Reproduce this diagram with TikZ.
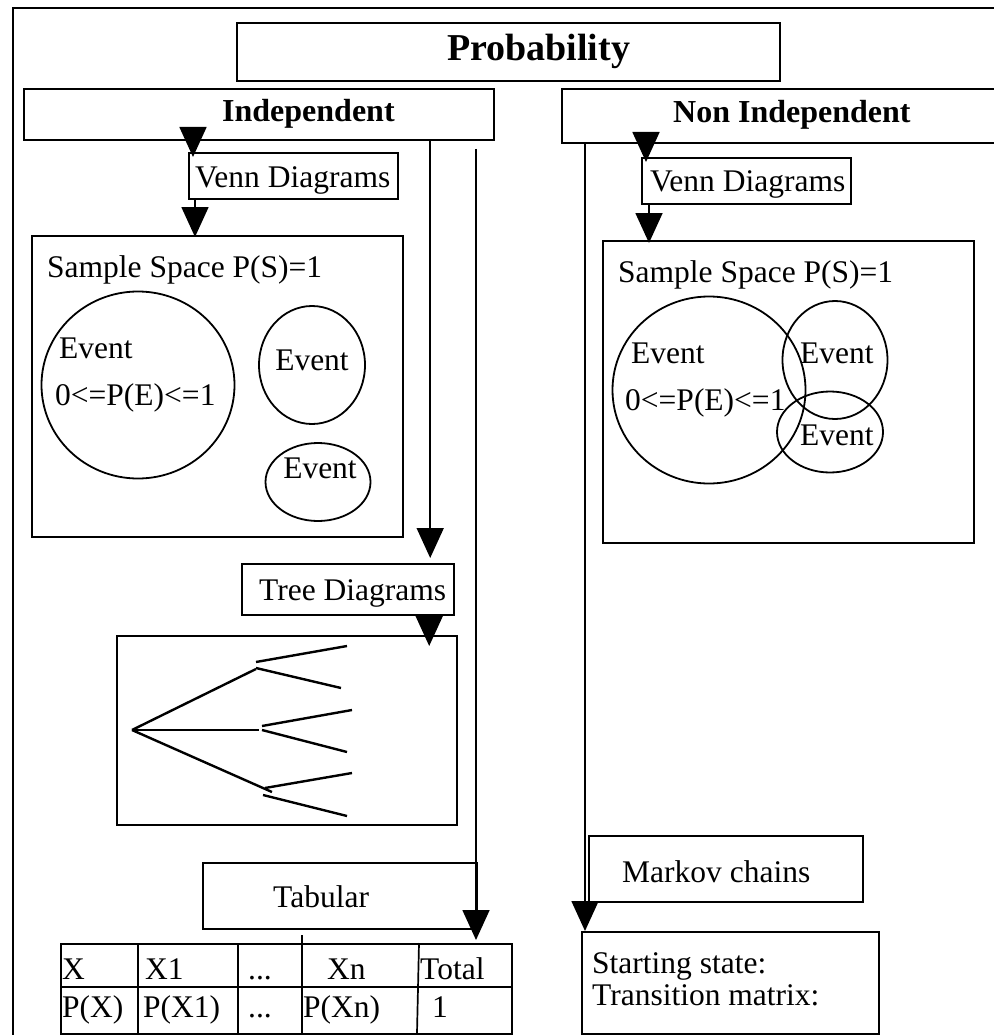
\documentclass[tikz,border=0pt]{standalone}
\usepackage{fontspec}
\setmainfont{Liberation Serif}
\usetikzlibrary{arrows.meta,shapes.geometric}
\tikzset{
  box/.style={draw, line width=2.2pt, anchor=north west, inner sep=0pt},
  thinBox/.style={draw, line width=1.7pt, anchor=north west, inner sep=0pt},
  txt/.style={anchor=base west, inner sep=0pt, font=\fontsize{31.5}{36}\selectfont},
  headLbl/.style={anchor=base west, inner sep=0pt, font=\fontsize{32}{38}\selectfont\bfseries},
  evt/.style={draw, ellipse, line width=1.8pt, inner sep=0pt},
  flow/.style={line width=1.7pt, -{Triangle[length=30pt, width=27pt]}},
  branch/.style={line width=2.4pt},
  grid/.style={line width=1.7pt},
}

\begin{document}
\begin{tikzpicture}[x=1pt, y=-1pt]
  \useasboundingbox (0,0) rectangle (993,1035);
  \draw[line width=2.2pt] (13,1040) -- (13,8) -- (1000,8);

  % headings
  \node[box, minimum width=543, minimum height=58] (probBox) at (236,22) {};
  \node[headLbl, font=\fontsize{38}{44}\selectfont\bfseries] (probLbl) at (447,61) {Probability};
  \node[box, minimum width=470, minimum height=51] (indep) at (23,88) {};
  \node[headLbl] (indepLbl) at (222,122) {Independent};
  \node[box, minimum width=450, minimum height=54] (nonIndep) at (561,88) {};
  \node[headLbl] (nonIndepLbl) at (673,123) {Non Independent};

  % independent side
  \node[box, minimum width=209, minimum height=46] (vennL) at (188,152) {};
  \node[txt] (vennLLbl) at (195,188) {Venn Diagrams};
  \node[box, minimum width=371, minimum height=301] (sampleL) at (31,235) {};
  \node[txt] (sampleLLbl) at (47,277) {Sample Space P(S)=1};
  \node[evt, minimum width=193, minimum height=187] (bigL) at (138,385) {};
  \node[txt] (eventL) at (59,358) {Event};
  \node[txt] (rangeL) at (55,405) {0<=P(E)<=1};
  \node[evt, minimum width=106, minimum height=118] (midL) at (312,365) {};
  \node[txt, anchor=base] (midLLbl) at (312,370) {Event};
  \node[evt, minimum width=105, minimum height=78] (lowL) at (318,482) {};
  \node[txt, anchor=base] (lowLLbl) at (320,478) {Event};

  \node[box, minimum width=212, minimum height=51] (treeHd) at (241,563) {};
  \node[txt] (treeLbl) at (259,600) {Tree Diagrams};
  \node[thinBox, minimum width=340, minimum height=189] (treeBox) at (116,635) {};
  \draw[branch] (132,730) -- (256,669);
  \draw[branch] (256,662) -- (347,646);
  \draw[branch] (256,668) -- (341,688);
  \draw[branch] (132,730) -- (259,730);
  \draw[branch] (262,726) -- (352,710);
  \draw[branch] (262,730) -- (347,752);
  \draw[branch] (132,730) -- (272,792);
  \draw[branch] (265,788) -- (352,773);
  \draw[branch] (263,795) -- (347,816);

  \node[box, minimum width=274, minimum height=66] (tabHd) at (202,862) {};
  \node[txt] (tabLbl) at (273,907) {Tabular};
  \node[thinBox, minimum width=451, minimum height=90] (tbl) at (60,943) {};
  \draw[grid] (tbl.west |- 0,987) -- (tbl.east |- 0,987);
  \draw[grid] (138,943) -- (138,1033);
  \draw[grid] (238,943) -- (238,1033);
  \draw[grid] (302,935) -- (302,1033);
  \draw[grid] (419,943) -- (417,1033);
  \node[txt] (cX) at (62,979) {X};
  \node[txt] (cX1) at (145,979) {X1};
  \node[txt] (cDots) at (248,979) {...};
  \node[txt] (cXn) at (327,979) {Xn};
  \node[txt] (cTotal) at (420,979) {Total};
  \node[txt] (pX) at (62,1017) {P(X)};
  \node[txt] (pX1) at (143,1017) {P(X1)};
  \node[txt] (pDots) at (248,1017) {...};
  \node[txt] (pXn) at (303,1017) {P(Xn)};
  \node[txt] (pOne) at (432,1017) {1};

  % non independent side
  \node[box, minimum width=209, minimum height=46] (vennR) at (641,157) {};
  \node[txt] (vennRLbl) at (650,192) {Venn Diagrams};
  \node[box, minimum width=371, minimum height=302] (sampleR) at (602,240) {};
  \node[txt] (sampleRLbl) at (618,282) {Sample Space P(S)=1};
  \node[evt, minimum width=193, minimum height=187] (bigR) at (709,390) {};
  \node[txt] (eventR) at (631,363) {Event};
  \node[txt] (rangeR) at (625,410) {0<=P(E)<=1};
  \node[evt, minimum width=105, minimum height=118] (midR) at (835,360) {};
  \node[txt] (midRLbl) at (800,363) {Event};
  \node[evt, minimum width=106, minimum height=81] (lowR) at (830,432) {};
  \node[txt] (lowRLbl) at (800,445) {Event};

  \node[box, minimum width=274, minimum height=66] (markov) at (588,835) {};
  \node[txt] (markovLbl) at (622,882) {Markov chains};
  \node[box, minimum width=297, minimum height=102] (startBox) at (581,931) {};
  \node[txt] (startLbl) at (592,973) {Starting state:};
  \node[txt] (transLbl) at (592,1005) {Transition matrix:};

  % arrows
  \coordinate (tabStart) at (476,149);
  \draw[flow] ([xshift=5pt]vennL.north west |- indep.south) -- ([xshift=5pt,yshift=-5pt]vennL.north west);
  \draw[flow] ([xshift=7pt]vennL.south west) -- ([xshift=7pt,yshift=-2pt]vennL.south west |- sampleL.north);
  \draw[flow] ([xshift=-25pt]treeHd.north east |- indep.south) -- ([xshift=-25pt,yshift=5pt]treeHd.north east);
  \draw[flow] ([xshift=-26pt]treeHd.south east) -- ([xshift=-26pt,yshift=-11pt]treeHd.south east |- treeBox.north);
  \draw[flow] (tabStart) -- ([yshift=3pt]tabStart |- tbl.north);
  \draw[flow] ([xshift=5pt]vennR.north west |- nonIndep.south) -- ([xshift=5pt,yshift=-5pt]vennR.north west);
  \draw[flow] ([xshift=8pt]vennR.south west) -- ([xshift=8pt,yshift=-3pt]vennR.south west |- sampleR.north);
  \draw[flow] ([xshift=24pt]nonIndep.south west) -- ([xshift=24pt]nonIndep.south west |- startBox.north);
\end{tikzpicture}
\end{document}
